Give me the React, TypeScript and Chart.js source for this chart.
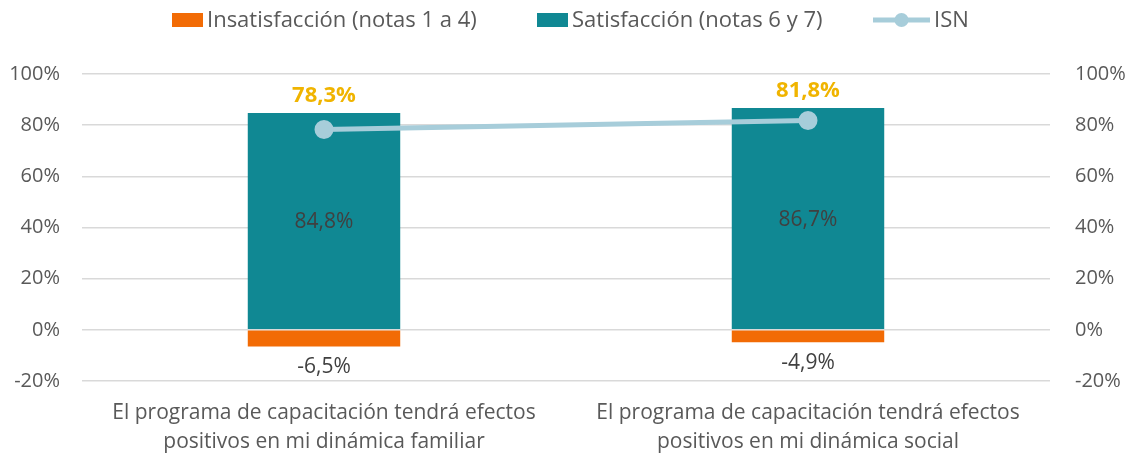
import React, { useEffect, useRef } from "react";
import { Chart, registerables } from "chart.js";

Chart.register(...registerables);

const categories: string[][] = [
  ["El programa de capacitación tendrá efectos", "positivos en mi dinámica familiar"],
  ["El programa de capacitación tendrá efectos", "positivos en mi dinámica social"],
];
const insatisfaccion = [-6.5, -4.9];
const satisfaccion = [84.8, 86.7];
const isn = [78.3, 81.8];

const seriesNames = ["Insatisfacción (notas 1 a 4)", "Satisfacción (notas 6 y 7)", "ISN"];

const ORANGE = "#F26B05";
const TEAL = "#108893";
const LIGHTBLUE = "#A7CDDA";
const YELLOW = "#F0B400";
const TEXT = "#595959";
const LABEL = "#404040";
const FONT = "'Open Sans', sans-serif";

const fmt = (v: number) => v.toFixed(1).replace(".", ",") + "%";

const labelPlugin = {
  id: "customLabels",
  afterDatasetsDraw(chart: any) {
    const ctx = chart.ctx;
    ctx.save();
    ctx.textAlign = "center";
    ctx.textBaseline = "middle";
    const mIns = chart.getDatasetMeta(0);
    const mSat = chart.getDatasetMeta(1);
    mSat.data.forEach((el: any, i: number) => {
      const top = el.y;
      const base = el.base;
      ctx.font = `21px ${FONT}`;
      ctx.fillStyle = LABEL;
      ctx.fillText(fmt(satisfaccion[i]), el.x, (top + base) / 2 + 1);
      ctx.font = `bold 22px ${FONT}`;
      ctx.fillStyle = YELLOW;
      ctx.fillText(fmt(isn[i]), el.x, top - 17);
    });
    mIns.data.forEach((el: any, i: number) => {
      ctx.font = `21px ${FONT}`;
      ctx.fillStyle = LABEL;
      ctx.fillText(fmt(insatisfaccion[i]), el.x, el.y + 21);
    });
    ctx.restore();
  },
  afterDraw(chart: any) {
    const ctx = chart.ctx;
    ctx.save();
    ctx.font = `22px ${FONT}`;
    ctx.textBaseline = "middle";
    ctx.textAlign = "left";
    const boxW = 31;
    const lineW = 57;
    const gapText = 4;
    const starts = [172, 537, 873];
    const symW = [boxW, boxW, lineW];
    const y = 20;
    const colors = [ORANGE, TEAL];
    for (let i = 0; i < 3; i++) {
      const x = starts[i];
      if (i < 2) {
        ctx.fillStyle = colors[i];
        ctx.fillRect(x, y - 7, boxW, 14);
      } else {
        ctx.strokeStyle = LIGHTBLUE;
        ctx.lineWidth = 5;
        ctx.beginPath();
        ctx.moveTo(x, y);
        ctx.lineTo(x + lineW, y);
        ctx.stroke();
        ctx.fillStyle = LIGHTBLUE;
        ctx.beginPath();
        ctx.arc(x + lineW / 2, y, 7, 0, Math.PI * 2);
        ctx.fill();
      }
      ctx.fillStyle = TEXT;
      ctx.fillText(seriesNames[i], x + symW[i] + gapText, y + 1);
    }
    ctx.restore();
  },
};

export default function App() {
  const ref = useRef<HTMLCanvasElement>(null);
  useEffect(() => {
    document.body.style.margin = "0";
    const tickFont = { family: FONT, size: 20 };
    const chart = new Chart(ref.current as HTMLCanvasElement, {
      type: "bar",
      data: {
        labels: categories as any,
        datasets: [
          {
            type: "bar",
            label: seriesNames[0],
            data: insatisfaccion,
            backgroundColor: ORANGE,
            categoryPercentage: 1,
            barPercentage: 0.315,
            order: 2,
            yAxisID: "y",
          },
          {
            type: "bar",
            label: seriesNames[1],
            data: satisfaccion,
            backgroundColor: TEAL,
            categoryPercentage: 1,
            barPercentage: 0.315,
            order: 1,
            yAxisID: "y",
          },
          {
            type: "line",
            label: seriesNames[2],
            data: isn,
            borderColor: LIGHTBLUE,
            backgroundColor: LIGHTBLUE,
            borderWidth: 5,
            pointRadius: 7,
            pointBackgroundColor: LIGHTBLUE,
            pointBorderColor: LIGHTBLUE,
            order: 0,
            yAxisID: "y2",
          } as any,
        ],
      },
      options: {
        animation: false,
        responsive: true,
        maintainAspectRatio: false,
        layout: { padding: { top: 74, left: 0, right: 0, bottom: 0 } },
        plugins: {
          legend: { display: false },
          tooltip: { enabled: false },
        },
        scales: {
          x: {
            stacked: true,
            grid: { display: false },
            border: { display: false },
            afterFit: (s: any) => {
              s.height = 72;
            },
            ticks: {
              color: TEXT,
              font: { family: FONT, size: 21, lineHeight: 1.35 },
              padding: 10,
              maxRotation: 0,
            },
          },
          y: {
            stacked: true,
            min: -20,
            max: 100,
            position: "left",
            afterFit: (s: any) => {
              s.width = 82;
            },
            ticks: {
              stepSize: 20,
              color: TEXT,
              font: tickFont,
              padding: 22,
              callback: (v: any) => v + "%",
            },
            grid: { color: "#D9D9D9", lineWidth: 1.5, drawTicks: false },
            border: { display: false },
          },
          y2: {
            min: -20,
            max: 100,
            position: "right",
            afterFit: (s: any) => {
              s.width = 81;
            },
            ticks: {
              stepSize: 20,
              color: TEXT,
              font: tickFont,
              padding: 25,
              callback: (v: any) => v + "%",
            },
            grid: { display: false, drawTicks: false },
            border: { display: false },
          },
        },
      },
      plugins: [labelPlugin],
    });
    return () => chart.destroy();
  }, []);
  return (
    <div style={{ width: "1131px", height: "453px", position: "relative" }}>
      <canvas ref={ref} />
    </div>
  );
}
